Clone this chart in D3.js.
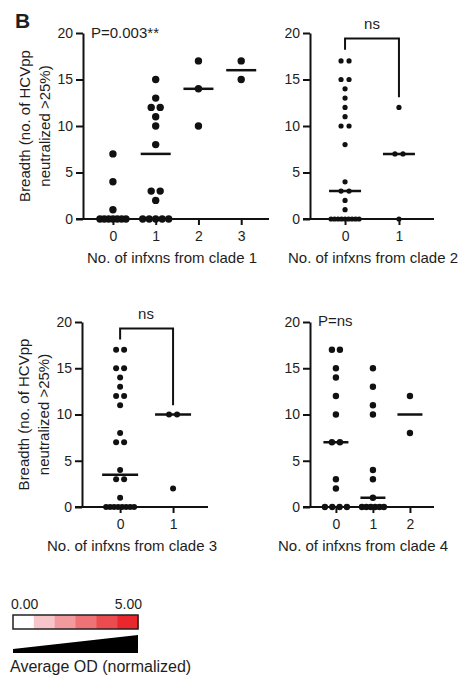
<!DOCTYPE html>
<html>
<head>
<meta charset="utf-8">
<script src="https://cdn.jsdelivr.net/npm/d3@7"></script>
<style>
  body { margin: 0; background: #fff; }
  svg text { font-family: "Liberation Sans", Arial, sans-serif; fill: #1e1e1e; }
</style>
</head>
<body>
<div id="chart"></div>
<script>
// breadth values per group
const clade1Groups = [0, 1, 2, 3]
const clade1Values = [
    [7, 4, 1, 0, 0, 0, 0, 0, 0, 0],
    [15, 13, 12, 12, 11, 10, 8, 3, 3, 2, 0, 0, 0, 0, 0],
    [17, 14, 10],
    [17, 15]
]
const clade1Medians = [0, 7, 14, 16]

const clade2Groups = [0, 1]
const clade2Values = [
    [17, 17, 15, 15, 14, 13, 12, 11, 10, 10, 8, 4, 3, 3, 2, 1, 0, 0, 0, 0, 0, 0, 0, 0, 0],
    [12, 7, 7, 0]
]
const clade2Medians = [3, 7]

const clade3Groups = [0, 1]
const clade3Values = [
    [17, 17, 15, 15, 14, 13, 12, 12, 11, 8, 7, 7, 4, 3, 3, 1, 0, 0, 0, 0, 0, 0, 0, 0],
    [10, 10, 2]
]
const clade3Medians = [3.5, 10]

const clade4Groups = [0, 1, 2]
const clade4Values = [
    [17, 17, 15, 14, 12, 10, 7, 7, 3, 2, 0, 0, 0, 0],
    [15, 13, 11, 10, 4, 3, 1, 0, 0, 0, 0, 0, 0],
    [12, 8]
]
const clade4Medians = [7, 1, 10]

const yTicks = [0, 5, 10, 15, 20]
const legendColors = ["#ffffff", "#f7c6ca", "#f39a9e", "#ef7276", "#ec4b50", "#e9272d"]
const legendLabels = ["0.00", "5.00"]

const svg = d3.select("#chart").append("svg")
    .attr("width", 460)
    .attr("height", 679)

svg.append("text")
    .attr("x", 15).attr("y", 28)
    .attr("font-size", 21).attr("font-weight", "bold")
    .text("B")

function drawPanel(p) {
    const g = svg.append("g")
    const x = d3.scaleLinear().domain(p.xDomain).range([p.left, p.right])
    const y = d3.scaleLinear().domain([0, 20]).range([p.bottom, p.top])

    const yAxis = g.append("g")
        .attr("transform", `translate(${p.left},0)`)
        .call(d3.axisLeft(y).tickValues(yTicks).tickSize(7).tickSizeOuter(0).tickPadding(3))
    const xAxis = g.append("g")
        .attr("transform", `translate(0,${p.bottom})`)
        .call(d3.axisBottom(x).tickValues(p.groups).tickFormat(d3.format("d"))
            .tickSize(6).tickSizeOuter(0).tickPadding(6))
    ;[yAxis, xAxis].forEach(a => {
        a.selectAll("path, line").attr("stroke", "#111").attr("stroke-width", 2)
        a.selectAll("text").attr("font-size", 14).attr("fill", "#1e1e1e")
            .attr("font-family", '"Liberation Sans", Arial, sans-serif')
    })
    xAxis.select(".domain").attr("d", `M${p.left - 7},0H${p.right}`)

    // dots, spread sideways when values repeat
    p.values.forEach((vals, gi) => {
        const counts = d3.rollup(vals, v => v.length, d => d)
        const pts = []
        counts.forEach((n, v) => {
            const sp = n > 1 ? Math.min(p.spacing, p.maxSpan / (n - 1)) : 0
            for (let i = 0; i < n; i++) pts.push({ v: v, dx: (i - (n - 1) / 2) * sp })
        })
        g.selectAll(null).data(pts).enter().append("circle")
            .attr("cx", d => x(p.groups[gi]) + d.dx)
            .attr("cy", d => y(d.v))
            .attr("r", p.r)
            .attr("fill", "#111")
    })

    g.selectAll(null).data(p.medians).enter().append("line")
        .attr("x1", (d, i) => x(p.groups[i]) - p.half)
        .attr("x2", (d, i) => x(p.groups[i]) + p.half)
        .attr("y1", d => y(d)).attr("y2", d => y(d))
        .attr("stroke", "#111").attr("stroke-width", 2.5)

    if (p.bracket) {
        const b = p.bracket
        g.append("path")
            .attr("d", `M${x(p.groups[0])},${y(b.left)}V${y(b.top)}H${x(p.groups[1])}V${y(b.right)}`)
            .attr("fill", "none").attr("stroke", "#111").attr("stroke-width", 2)
    }
    g.append("text")
        .attr("x", p.statX).attr("y", p.statY)
        .attr("text-anchor", p.statAnchor)
        .attr("font-size", 15)
        .text(p.stat)

    g.append("text")
        .attr("x", p.titleX).attr("y", p.bottom + 44)
        .attr("text-anchor", "middle")
        .attr("font-size", 15)
        .text(p.title)

    if (p.yTitle) {
        const cy = (p.top + p.bottom) / 2
        const t = g.append("text")
            .attr("transform", `translate(${p.left - 53},${cy}) rotate(-90)`)
            .attr("text-anchor", "middle")
            .attr("font-size", 15)
        t.append("tspan").attr("x", 0).attr("dy", 0).text("Breadth (no. of HCVpp")
        t.append("tspan").attr("x", 0).attr("dy", 20).text("neutralized >25%)")
    }
}

drawPanel({
    groups: clade1Groups, values: clade1Values, medians: clade1Medians,
    xDomain: [-0.7, 3.65], left: 83, right: 269, top: 33, bottom: 219,
    r: 3.7, spacing: 9, maxSpan: 26, half: 15,
    stat: "P=0.003**", statX: 91, statY: 38, statAnchor: "start",
    title: "No. of infxns from clade 1", titleX: 172, yTitle: true
})
drawPanel({
    groups: clade2Groups, values: clade2Values, medians: clade2Medians,
    xDomain: [-0.65, 1.65], left: 310, right: 434, top: 33, bottom: 219,
    r: 2.6, spacing: 8, maxSpan: 28, half: 16,
    bracket: { top: 19.4, left: 18.2, right: 13.1 },
    stat: "ns", statX: 372, statY: 29, statAnchor: "middle",
    title: "No. of infxns from clade 2", titleX: 373, yTitle: false
})
drawPanel({
    groups: clade3Groups, values: clade3Values, medians: clade3Medians,
    xDomain: [-0.72, 1.66], left: 82, right: 208, top: 322, bottom: 507,
    r: 3, spacing: 8, maxSpan: 28, half: 18,
    bracket: { top: 19.3, left: 18.1, right: 11 },
    stat: "ns", statX: 146, statY: 319, statAnchor: "middle",
    title: "No. of infxns from clade 3", titleX: 132, yTitle: true
})
drawPanel({
    groups: clade4Groups, values: clade4Values, medians: clade4Medians,
    xDomain: [-0.7, 2.65], left: 310, right: 434, top: 322, bottom: 507,
    r: 3.2, spacing: 8, maxSpan: 22, half: 12.5,
    stat: "P=ns", statX: 318, statY: 326, statAnchor: "start",
    title: "No. of infxns from clade 4", titleX: 363, yTitle: false
})

// colour key
const lx = d3.scaleBand().domain(d3.range(legendColors.length)).range([13, 138])
const key = svg.append("g")
key.selectAll("rect").data(legendColors).enter().append("rect")
    .attr("x", (d, i) => lx(i)).attr("y", 615)
    .attr("width", lx.bandwidth() + 0.5).attr("height", 14)
    .attr("fill", d => d)
key.append("rect")
    .attr("x", 13).attr("y", 615).attr("width", 125).attr("height", 14)
    .attr("fill", "none").attr("stroke", "#222").attr("stroke-width", 1.5)
key.append("text").attr("x", 11).attr("y", 609).attr("font-size", 14).text(legendLabels[0])
key.append("text").attr("x", 142).attr("y", 609).attr("font-size", 14)
    .attr("text-anchor", "end").text(legendLabels[1])
key.append("path")
    .attr("d", "M13,649L138,635V653H13Z")
    .attr("fill", "#000")
key.append("text").attr("x", 10).attr("y", 672).attr("font-size", 16)
    .text("Average OD (normalized)")
</script>
</body>
</html>
